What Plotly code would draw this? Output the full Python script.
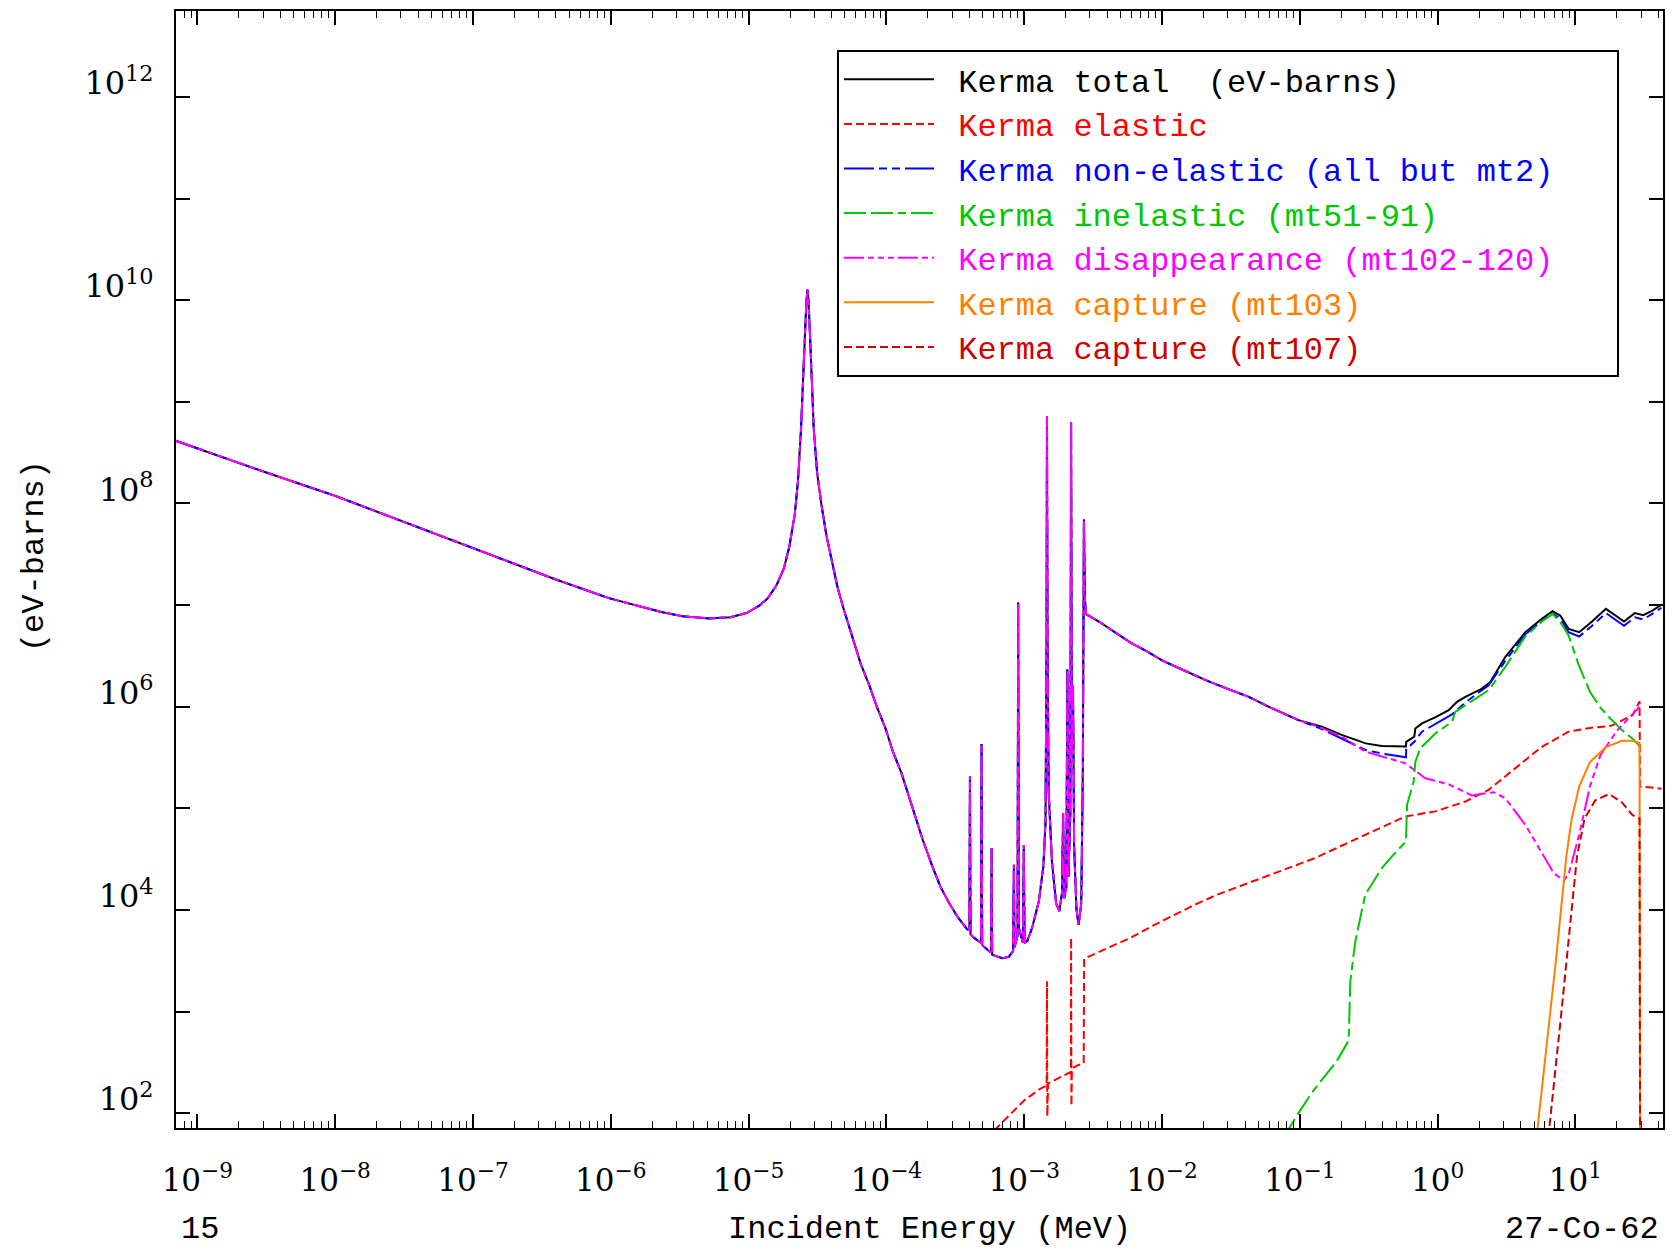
import numpy as np
import plotly.graph_objects as go

# ---- data (log10 of energy in MeV, log10 of kerma in eV-barns) ----
# part shared by total / non-elastic / disappearance (1/v, resonances, low continuum)
low_logE = [-9.16, -8.500, -7.997, -7.005, -6.409, -6.014, -5.789, -5.634, -5.479, -5.286,
            -5.131, -5.015, -4.922, -4.860, -4.798, -4.744, -4.705, -4.666, -4.643, -4.620,
            -4.604, -4.589, -4.581, -4.573, -4.565, -4.558, -4.542, -4.527, -4.503, -4.472,
            -4.434, -4.395, -4.356, -4.318, -4.240, -4.186, -4.124, -4.070, -4.008, -3.9535,
            -3.892, -3.799, -3.7366, -3.667, -3.605, -3.543, -3.481, -3.415,
            -3.398, -3.394, -3.3895, -3.365, -3.329, -3.3136, -3.3098, -3.3051, -3.2564,
            -3.2409, -3.237, -3.2324, -3.2083, -3.1603, -3.1115, -3.0805, -3.075, -3.0704,
            -3.0487, -3.044, -3.0387, -3.010, -3.003, -2.9976, -2.9775, -2.9427, -2.8938,
            -2.8613, -2.8458, -2.8381, -2.835, -2.831, -2.8226, -2.7994, -2.7684, -2.7452,
            -2.7258, -2.718, -2.7103, -2.6948, -2.6871, -2.6793, -2.6654, -2.660, -2.6545,
            -2.646, -2.6383, -2.6212, -2.6057, -2.5864, -2.5748, -2.567, -2.5593, -2.5515,
            -2.4585, -2.3423, -2.2262, -2.110, -1.9938, -1.8389, -1.684, -1.529, -1.371,
            -1.227, -1.010]
low_logV = [8.618, 8.304, 8.073, 7.560, 7.257, 7.068, 6.984, 6.932, 6.890, 6.869,
            6.880, 6.922, 6.995, 7.068, 7.194, 7.361, 7.571, 7.885, 8.199, 8.723,
            9.246, 9.770, 9.979, 10.105, 9.979, 9.770, 9.246, 8.723, 8.304, 7.990,
            7.675, 7.414, 7.183, 6.995, 6.649, 6.419, 6.210, 6.000, 5.791, 5.560,
            5.351, 4.953, 4.691, 4.429, 4.220, 4.063, 3.927, 3.812,
            3.801, 5.319, 3.759, 3.728, 3.686, 3.675, 5.634, 3.654, 3.597,
            3.581, 4.607, 3.560, 3.548, 3.525, 3.538, 3.597, 4.446, 3.633,
            3.749, 7.026, 3.822, 3.679, 4.639, 3.675, 3.696, 3.825, 4.087,
            4.429, 4.848, 6.628, 8.859, 6.628, 5.162, 4.482, 4.063, 3.990,
            4.168, 4.953, 4.115, 4.220, 6.366, 4.325, 4.953, 8.796, 5.581,
            6.209, 4.639, 4.010, 3.853, 4.063, 5.372, 7.843, 7.047, 6.911,
            6.838, 6.733, 6.628, 6.545, 6.450, 6.356, 6.262, 6.178, 6.097,
            6.0, 5.868]

total_logE = [-0.8396, -0.6925, -0.5221, -0.4059, -0.230, -0.2285, -0.1696, -0.1619, -0.1139,
              -0.0186, 0.080, 0.1402, 0.2007, 0.3215, 0.3819, 0.4903, 0.6359, 0.756, 0.8335,
              0.8892, 0.9497, 1.027, 1.120, 1.2208, 1.2982, 1.3524, 1.430, 1.4919, 1.5539, 1.6236]
total_logV = [5.803, 5.721, 5.639, 5.613, 5.609, 5.655, 5.705, 5.786, 5.836,
              5.895, 5.966, 6.048, 6.097, 6.178, 6.244, 6.489, 6.734, 6.865, 6.940,
              6.897, 6.766, 6.733, 6.838, 6.963, 6.890, 6.838, 6.921, 6.900, 6.942, 7.005]

nonel_logE = [-0.8396, -0.6925, -0.5244, -0.4059, -0.230, -0.2285, -0.1696, -0.1139, -0.0186,
              0.1039, 0.2007, 0.3695, 0.4903, 0.6359, 0.756, 0.8335, 0.8892, 0.9497, 1.027,
              1.120, 1.2208, 1.2982, 1.3524, 1.430, 1.4919, 1.5539, 1.6236]
nonel_logV = [5.780, 5.686, 5.574, 5.539, 5.502, 5.583, 5.655, 5.754, 5.832,
              5.924, 6.042, 6.211, 6.450, 6.712, 6.843, 6.916, 6.869, 6.733, 6.691,
              6.796, 6.921, 6.848, 6.796, 6.880, 6.859, 6.911, 6.974]

disap_logE = [-0.8396, -0.6925, -0.5244, -0.2347, -0.0899, 0.080, 0.2487, 0.4059, 0.4903,
              0.6359, 0.756, 0.8412, 0.914, 0.9497, 1.027, 1.1046, 1.1821, 1.2982, 1.4144, 1.4648]
disap_logV = [5.790, 5.702, 5.558, 5.443, 5.296, 5.237, 5.127, 5.159, 5.100,
              4.839, 4.561, 4.364, 4.290, 4.349, 4.743, 5.215, 5.529, 5.759, 5.927, 6.0]

elastic_logE = [-3.2176, -3.117, -3.0008, -2.8846, -2.8373, -2.835, -2.8327, -2.8265, -2.7684,
                -2.6909, -2.6615, -2.660, -2.6576, -2.6538, -2.6135, -2.5686, -2.5655, -2.5515,
                -2.3811, -2.2262, -2.0713, -1.9163, -1.7614, -1.6065, -1.371, -1.1417, -0.8877,
                -0.5252, -0.2347, -0.017, 0.2007, 0.3695, 0.5631, 0.756, 0.9497, 1.1046, 1.2595,
                1.4144, 1.4648, 1.4686, 1.6236]
elastic_logV = [1.832, 1.969, 2.126, 2.241, 2.272, 3.298, 1.969, 2.293, 2.335,
                2.388, 2.408, 3.728, 2.073, 2.440, 2.471, 2.492, 3.518, 3.529,
                3.634, 3.728, 3.843, 3.948, 4.052, 4.147, 4.267, 4.377, 4.512,
                4.740, 4.920, 4.970, 5.067, 5.182, 5.394, 5.606, 5.754, 5.791, 5.812,
                5.916, 6.052, 5.215, 5.194]

inel_logE = [-1.1185, -1.0256, -0.9094, -0.7932, -0.7304, -0.646, -0.6336, -0.5972, -0.5252,
             -0.4036, -0.3315, -0.230, -0.2223, -0.1743, -0.1619, -0.1263, -0.017, 0.1039,
             0.1279, 0.3695, 0.4903, 0.6359, 0.756, 0.8335, 0.8877, 0.9497, 1.027, 1.1046,
             1.1821, 1.2595, 1.337, 1.4144, 1.4648]
inel_logV = [1.759, 1.969, 2.209, 2.408, 2.518, 2.714, 3.303, 3.695, 4.153,
             4.414, 4.528, 4.675, 5.035, 5.264, 5.460, 5.589, 5.737, 5.851,
             5.950, 6.162, 6.391, 6.691, 6.838, 6.911, 6.838, 6.701, 6.398, 6.147,
             5.989, 5.874, 5.770, 5.686, 5.613]

cap103_logE = [0.7173, 0.7715, 0.818, 0.8567, 0.8955, 0.9342, 0.9729, 1.027, 1.1046, 1.2208,
               1.337, 1.4144, 1.4648, 1.4686]
cap103_logV = [1.759, 2.440, 2.963, 3.487, 4.010, 4.534, 4.900, 5.215, 5.455, 5.602,
               5.665, 5.665, 5.644, 1.759]

cap107_logE = [0.8025, 0.8567, 0.8955, 0.9342, 0.9729, 1.0116, 1.066, 1.1433, 1.244, 1.337,
               1.4144, 1.4648, 1.4686]
cap107_logV = [1.759, 2.440, 2.963, 3.487, 4.010, 4.534, 4.900, 5.079, 5.141, 5.058,
               4.932, 4.900, 1.759]

x_tick_exp = list(range(-9, 2))
y_tick_exp = list(range(2, 13))

NB = "\u00a0"
series = [
    ("Kerma total  (eV-barns)", low_logE + total_logE, low_logV + total_logV, "#000000", "solid"),
    ("Kerma elastic", elastic_logE, elastic_logV, "#ff0000", "8px,4px"),
    ("Kerma non-elastic (all but mt2)" + NB * 3, low_logE + nonel_logE, low_logV + nonel_logV,
     "#0000ff", "30px,5px,8px,5px,8px,5px"),
    ("Kerma inelastic (mt51-91)", inel_logE, inel_logV, "#00c800", "22px,5px,22px,5px,8px,5px"),
    ("Kerma disappearance (mt102-120)", low_logE + disap_logE, low_logV + disap_logV, "#ff00ff",
     "20px,4px,6px,4px,6px,4px,6px,4px"),
    ("Kerma capture (mt103)", cap103_logE, cap103_logV, "#ff8000", "solid"),
    ("Kerma capture (mt107)", cap107_logE, cap107_logV, "#d00000", "8px,4px"),
]

fig = go.Figure()
for name, lx, ly, col, dash in series:
    fig.add_trace(go.Scatter(
        x=10 ** np.array(lx), y=10 ** np.array(ly), mode="lines",
        name=f'<span style="color:{col}">{NB}{name}</span>',
        line=dict(color=col, width=2, dash=dash),
        hoverinfo="skip"))

serif = "DejaVu Serif"
mono = "Liberation Mono"

minor_x = [m * 10.0 ** k for k in range(-10, 2) for m in range(2, 10)]

fig.update_layout(
    width=1667, height=1243,
    margin=dict(l=168, r=12, t=1, b=123),
    paper_bgcolor="white", plot_bgcolor="white",
    showlegend=True,
    legend=dict(x=0.4445, y=0.9651, xanchor="left", yanchor="top",
                bordercolor="black", borderwidth=2, bgcolor="white",
                font=dict(family=mono, size=32, color="black"),
                itemwidth=90, tracegroupgap=0),
    xaxis=dict(type="log", range=[-9.155, 1.635],
               tickvals=[10.0 ** e for e in x_tick_exp],
               ticktext=[f"10<sup>\u2212{-e}</sup>" if e < 0 else f"10<sup>{e}</sup>" for e in x_tick_exp],
               ticks="inside", ticklen=14, tickwidth=1.5, tickcolor="black",
               showline=True, linecolor="black", linewidth=2, mirror="ticks",
               showgrid=False, zeroline=False,
               tickfont=dict(family=serif, size=31, color="black"),
               ticklabelstandoff=24,
               minor=dict(tickvals=minor_x, ticks="inside", ticklen=7, tickwidth=1.2,
                          tickcolor="black", showgrid=False)),
    yaxis=dict(type="log", range=[1.855, 12.845],
               tickvals=[10.0 ** e for e in y_tick_exp],
               ticktext=[f"10<sup>{e}</sup>" if e % 2 == 0 else "" for e in y_tick_exp],
               ticks="inside", ticklen=14, tickwidth=1.5, tickcolor="black",
               showline=True, linecolor="black", linewidth=2, mirror="ticks",
               showgrid=False, zeroline=False,
               tickfont=dict(family=serif, size=32, color="black"),
               ticklabelstandoff=14, ticklabelshift=-14),
    annotations=[
        dict(text="Incident Energy (MeV)", x=0.507, y=-0.0912, xref="paper", yref="paper",
             xanchor="center", yanchor="middle", showarrow=False,
             font=dict(family=mono, size=32, color="black")),
        dict(text="15", x=0.002, y=-0.0912, xref="paper", yref="paper",
             xanchor="left", yanchor="middle", showarrow=False,
             font=dict(family=mono, size=32, color="black")),
        dict(text="27-Co-62", x=0.9987, y=-0.0912, xref="paper", yref="paper",
             xanchor="right", yanchor="middle", showarrow=False,
             font=dict(family=mono, size=32, color="black")),
        dict(text="(eV-barns)", x=-0.0955, y=0.512, xref="paper", yref="paper",
             xanchor="center", yanchor="middle", showarrow=False, textangle=-90,
             font=dict(family=mono, size=32, color="black")),
    ],
)

fig.write_html("out.html")
